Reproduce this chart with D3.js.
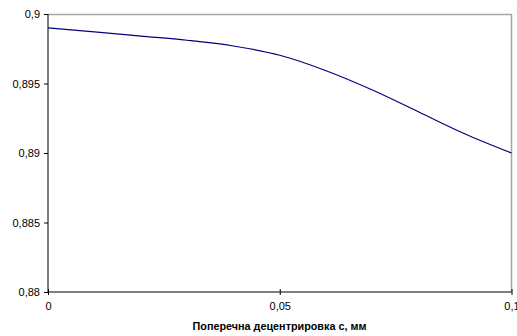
<!DOCTYPE html>
<html><head><meta charset="utf-8">
<script src="https://cdn.jsdelivr.net/npm/d3@7/dist/d3.min.js"></script>
<style>body{margin:0;background:#fff;} svg{display:block;font-family:"Liberation Sans",Arial,sans-serif;}</style>
</head><body>
<svg id="chart" width="517" height="336"></svg>
<script>
const xValues = [0, 0.01, 0.02, 0.03, 0.04, 0.05, 0.06, 0.07, 0.08, 0.09, 0.1];
const yValues = [0.8990, 0.89871, 0.89841, 0.89811, 0.8977, 0.89703, 0.89592, 0.89453, 0.89295, 0.89137, 0.8900];
const xTicks = [0, 0.05, 0.1];
const xTickLabels = ["0", "0,05", "0,1"];
const yTicks = [0.88, 0.885, 0.89, 0.895, 0.9];
const yTickLabels = ["0,88", "0,885", "0,89", "0,895", "0,9"];
const xTitle = "Поперечна децентрировка с, мм";

const svg = d3.select("#chart");
const L = 48, R = 511.5, T = 14, B = 292;
const x = d3.scaleLinear().domain([0, 0.1]).range([L, R]);
const y = d3.scaleLinear().domain([0.88, 0.9]).range([B, T]);

// gray frame top/right
svg.append("path").attr("d", `M${L},${T+0.5}H${R}V${B}`).attr("fill","none").attr("stroke","#a6a6a6").attr("stroke-width",1.5);

// y axis
const yAxis = svg.append("g").attr("transform", `translate(${L},0)`)
  .call(d3.axisLeft(y).tickValues(yTicks).tickSize(4).tickPadding(4).tickFormat((d,i)=>yTickLabels[i]));
yAxis.select(".domain").attr("stroke","#000").attr("d", `M0,${T}V${B}`);
yAxis.selectAll("text").attr("font-size", 11).attr("fill","#000").attr("font-family","Liberation Sans, Arial, sans-serif");

// x axis
const xAxis = svg.append("g").attr("transform", `translate(0,${B})`)
  .call(d3.axisBottom(x).tickValues(xTicks).tickSize(0).tickPadding(10).tickFormat((d,i)=>xTickLabels[i]));
xAxis.select(".domain").attr("stroke","#000").attr("d", `M${L},0H${R}`);
xAxis.selectAll(".tick line").attr("y1",-3).attr("y2",3).attr("stroke","#000");
xAxis.selectAll("text").attr("font-size", 11).attr("fill","#000").attr("font-family","Liberation Sans, Arial, sans-serif");

// line
const line = d3.line().x((d,i)=>x(xValues[i])).y(d=>y(d)).curve(d3.curveMonotoneX);
svg.append("path").datum(yValues).attr("d", line).attr("fill","none").attr("stroke","#000080").attr("stroke-width",1.2);

// title
svg.append("text").attr("x", 279.5).attr("y", 329.5).attr("text-anchor","middle")
  .attr("font-size", 10.8).attr("font-weight","bold").attr("fill","#000").text(xTitle);
</script>
</body></html>
